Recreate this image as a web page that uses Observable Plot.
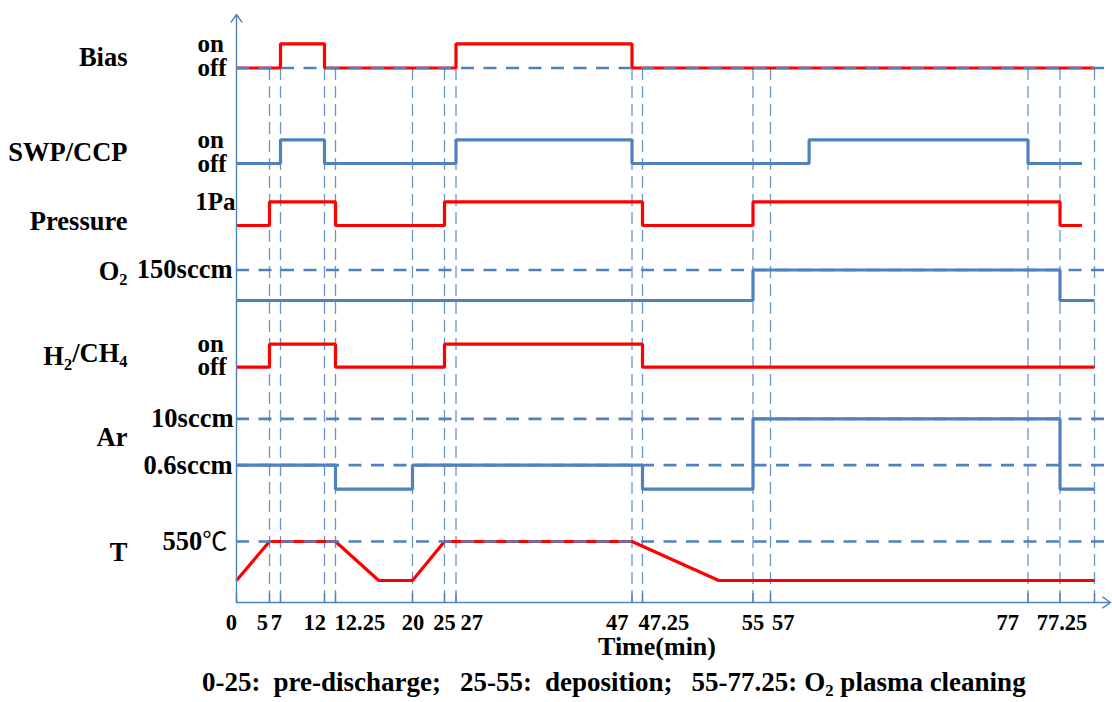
<!DOCTYPE html>
<html>
<head>
<meta charset="utf-8">
<script src="https://cdn.jsdelivr.net/npm/d3@7"></script>
<script src="https://cdn.jsdelivr.net/npm/@observablehq/plot@0.6"></script>
<style>
  html, body { margin: 0; padding: 0; background: #fff; }
  #wrap { position: relative; width: 1112px; height: 702px; font-family: "Liberation Serif", "Times New Roman", serif; font-weight: bold; color: #000; }
  #chart svg { display: block; overflow: visible; }
  .note { position: absolute; white-space: pre; }
  #xtitle { left: 657px; top: 634px; transform: translateX(-50%); font-size: 26px; line-height: 26px; }
  #caption { left: 202px; top: 669px; font-size: 27px; line-height: 27px; }
  #caption span { margin-left: 19px; }
  #caption span:first-child { margin-left: 0; }
  #caption span.gap1 { margin-left: 13px; }
  #caption span.gap2 { margin-left: 7px; }
  #caption sub { font-size: 0.62em; vertical-align: -0.28em; line-height: 0; }
</style>
</head>
<body>
<div id="wrap">
  <div id="chart"></div>
  <div id="xtitle" class="note">Time(min)</div>
  <div id="caption" class="note"><span>0-25:</span><span class="gap1">pre-discharge;</span><span>25-55:</span><span class="gap1">deposition;</span><span>55-77.25:</span><span class="gap2">O<sub>2</sub> plasma cleaning</span></div>
</div>
<script>
// ---- time axis: labelled instants of the process (min) ----
const tickTimes  = [0, 5, 7, 12, 12.25, 20, 25, 27, 47, 47.25, 55, 57, 77, 77.25, 80];
const tickLabels = ["0", "5", "7", "12", "12.25", "20", "25", "27", "47", "47.25", "55", "57", "77", "77.25", ""];
const endLabels    = ["0", "5", "7", "12", "47", "77"];        // set just left of their tick
const startLabels  = ["12.25", "27", "47.25", "57"];          // set just right of their tick
const middleLabels = ["20", "25", "55", "77.25"];             // centred on their tick
const guideTimes = [5, 7, 12, 12.25, 20, 25, 27, 47, 47.25, 55, 57, 77, 77.25, 80];

// ---- process signals: change instants (min) and levels ----
const biasTimes = [0, 7, 12, 27, 47, 80];
const biasOn    = [0, 1, 0, 1, 0, 0];
const swpTimes  = [0, 7, 12, 27, 47, 60, 77, 79];
const swpOn     = [0, 1, 0, 1, 0, 1, 0, 0];
const pressureTimes = [0, 5, 12.25, 25, 47.25, 55, 77.25, 79];
const pressurePa    = [0, 1, 0, 1, 0, 1, 0, 0];
const o2Times = [0, 55, 77.25, 80];
const o2Sccm  = [0, 150, 0, 0];
const h2Times = [0, 5, 12.25, 25, 47.25, 80];
const h2On    = [0, 1, 0, 1, 0, 0];
const arTimes = [0, 12.25, 20, 47.25, 55, 77.25, 80];
const arSccm  = [0.6, 0, 0.6, 0, 10, 0, 0];
const tempTimes = [0, 5, 12.25, 16.6, 20, 25, 47, 52.6, 80];
const tempC     = [25, 550, 550, 25, 25, 550, 550, 25, 25];

// ---- row names and level labels ----
const rowNames = ["Bias", "SWP/CCP", "Pressure", "O2", "H2/CH4", "Ar", "T"];
const onOffLabels = [
  {lane: "bias", value: 1, text: "on"}, {lane: "bias", value: 0, text: "off"},
  {lane: "swp", value: 1, text: "on"},  {lane: "swp", value: 0, text: "off"},
  {lane: "h2", value: 1, text: "on"},   {lane: "h2", value: 0, text: "off"}
];
const valueLabels = [
  {lane: "pressure", value: 1, text: "1Pa"},
  {lane: "o2", value: 150, text: "150sccm"},
  {lane: "ar", value: 10, text: "10sccm"},
  {lane: "ar", value: 0.6, text: "0.6sccm"},
  {lane: "temp", value: 550, text: "550℃"}
];
const referenceLevels = [
  {lane: "bias", value: 0}, {lane: "o2", value: 150},
  {lane: "ar", value: 10}, {lane: "ar", value: 0.6}, {lane: "temp", value: 550}
];

// ---- layout: each row is a lane of the vertical scale (units above the time axis) ----
const lanes = {
  bias:     d3.scaleLinear([0, 1], [534.5, 558.7]),
  swp:      d3.scaleLinear([0, 1], [439, 462.7]),
  pressure: d3.scaleLinear([0, 1], [377, 400.7]),
  o2:       d3.scaleLinear([0, 150], [302, 332.5]),
  h2:       d3.scaleLinear([0, 1], [235.3, 258.3]),
  ar:       d3.scaleLinear([0, 0.6, 10], [113.3, 137.3, 183.7]),
  temp:     d3.scaleLinear([25, 550], [22, 61])
};
const rowNameLevel = [545.3, 450.3, 381.3, 331.3, 246, 165.3, 50.3];
// small horizontal nudges (px) of individual labels
const tickNudge  = {"0": 0.5, "5": -1.5, "7": 1.5, "12": 1.5, "47": -3.5, "77": -9,
                    "12.25": -1, "27": 4.5, "47.25": -4, "57": 1.5,
                    "20": 0.5, "25": 0, "55": 0, "77.25": 2};
const valueNudge = {"1Pa": -1, "150sccm": -4, "10sccm": -3, "0.6sccm": -4, "550℃": -9};
const valueSize  = {"1Pa": 25, "150sccm": 26.5, "10sccm": 26.5, "0.6sccm": 26.5, "550℃": 26.5};

// the schematic time axis is drawn piecewise: each labelled interval has its own width
const xDomain = [0, 5, 7, 12, 12.25, 20, 25, 27, 47, 47.25, 55, 57, 77, 77.25, 80, 81];
const xRange  = [236, 269, 280, 324, 335, 412, 444, 455.5, 631.5, 642, 752.5, 770, 1027.5, 1059.5, 1094, 1110];

const RED = "#ff0000";
const BLUE = "#4f81bd";
const FONT = "Liberation Serif, Times New Roman, serif";

const series = (times, values, lane) => times.map((t, i) => ({t, y: lanes[lane](values[i])}));

const signal = (times, values, lane, color, curve = "step-after") =>
  Plot.line(series(times, values, lane), {
    x: "t", y: "y", curve, stroke: color, strokeWidth: 3.2,
    strokeLinejoin: "miter", strokeLinecap: "butt"
  });

const tickText = (labels, anchor) => labels.map(label =>
  Plot.text([label], {
    x: d => tickTimes[tickLabels.indexOf(d)], y: () => 0, text: d => d,
    textAnchor: anchor, dx: tickNudge[label], dy: 20,
    fontSize: 22.5, fontWeight: "bold", fontFamily: FONT, fill: "#000"
  })
);

const chart = Plot.plot({
  width: 1112,
  height: 634,
  margin: 0,
  x: {type: "linear", domain: xDomain, range: xRange, axis: null},
  y: {type: "linear", domain: [0, 590], range: [602, 12], axis: null},
  style: {background: "#fff", fontFamily: FONT, overflow: "visible"},
  marks: [
    // vertical guides at each labelled instant
    Plot.ruleX(guideTimes, {
      x: d => d, y1: 0, y2: lanes.bias(0),
      stroke: BLUE, strokeWidth: 1.3, strokeOpacity: 0.85, strokeDasharray: "12,6"
    }),
    // process signals
    signal(biasTimes, biasOn, "bias", RED),
    signal(swpTimes, swpOn, "swp", BLUE),
    signal(pressureTimes, pressurePa, "pressure", RED),
    signal(o2Times, o2Sccm, "o2", BLUE),
    signal(h2Times, h2On, "h2", RED),
    signal(arTimes, arSccm, "ar", BLUE),
    signal(tempTimes, tempC, "temp", RED, "linear"),
    // dashed reference levels
    Plot.ruleY(referenceLevels, {
      y: d => lanes[d.lane](d.value), x1: 0, x2: 81,
      stroke: BLUE, strokeWidth: 2.7, strokeDasharray: "13,9.5"
    }),
    // axes with arrow heads
    Plot.arrow([{x1: 0, y1: 0, x2: 81, y2: 0}, {x1: 0, y1: 0, x2: 0, y2: 588}], {
      x1: "x1", y1: "y1", x2: "x2", y2: "y2",
      stroke: BLUE, strokeWidth: 1.4, headLength: 10, headAngle: 70
    }),
    Plot.ruleX(tickTimes, {x: d => d, y1: 0, y2: 9, stroke: BLUE, strokeWidth: 1.4}),
    ...tickText(endLabels, "end"),
    ...tickText(startLabels, "start"),
    ...tickText(middleLabels, "middle"),
    // row names
    Plot.text(rowNames, {
      x: () => 0, y: (d, i) => rowNameLevel[i], text: d => d, textAnchor: "end", dx: -109,
      fontSize: 26.5, fontWeight: "bold", fontFamily: FONT, fill: "#000"
    }),
    // on / off states
    Plot.text(onOffLabels, {
      x: () => 0, y: d => lanes[d.lane](d.value), text: "text", textAnchor: "start", dx: -39,
      fontSize: 25, fontWeight: "bold", fontFamily: FONT, fill: "#000"
    }),
    // stated set-points
    ...valueLabels.map(v => Plot.text([v], {
      x: () => 0, y: d => lanes[d.lane](d.value), text: "text", textAnchor: "end",
      dx: valueNudge[v.text], fontSize: valueSize[v.text],
      fontWeight: "bold", fontFamily: FONT, fill: "#000"
    }))
  ]
});

// chemical formulae: set the digits after a letter as subscripts;
// the degree sign is set in a light CJK face
d3.select(chart).selectAll("text").each(function () {
  const el = this;
  if (el.querySelector("tspan")) return;
  const s = el.textContent;
  if (s.includes("℃")) {
    el.textContent = "";
    const [num] = s.split("℃");
    d3.select(el).append("tspan").text(num);
    d3.select(el).append("tspan").text("℃")
      .attr("font-family", "Noto Sans CJK SC").attr("font-weight", "normal").attr("font-size", "0.95em");
    return;
  }
  if (!/[A-Z]\d/.test(s)) return;
  el.textContent = "";
  const parts = s.split(/(?<=[A-Z])(\d)/);
  let shifted = false;
  parts.forEach((p, i) => {
    if (p === "") return;
    const isSub = i % 2 === 1;
    const ts = d3.select(el).append("tspan").text(p);
    if (isSub) { ts.attr("dy", "0.3em").attr("font-size", "0.62em"); shifted = true; }
    else if (shifted) { ts.attr("dy", "-0.3em"); shifted = false; }
  });
});

document.getElementById("chart").appendChild(chart);
</script>
</body>
</html>
